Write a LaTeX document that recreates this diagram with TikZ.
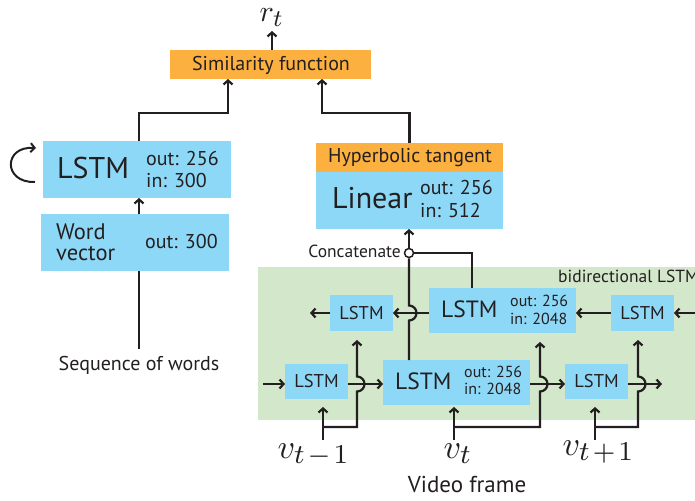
\documentclass[tikz,border=0pt]{standalone}
\usepackage{fontspec}
\setsansfont{PT Sans}
\usetikzlibrary{arrows.meta}
\DeclareMathSizes{10}{10}{8}{6}
\definecolor{boxblue}{HTML}{8DD8F7}
\definecolor{boxorange}{HTML}{FBB040}
\definecolor{bggreen}{HTML}{D3E7CA}
\definecolor{ink}{HTML}{231F20}
\newcommand{\fs}[1]{\fontsize{#1}{#1}\selectfont}
\newcommand{\opsp}{\mskip2mu}
\begin{document}
\begin{tikzpicture}[x=1pt,y=-1pt,
  box/.style={fill=boxblue, inner sep=0pt, outer sep=0pt, anchor=north west},
  obox/.style={box, fill=boxorange},
  lbl/.style={inner sep=0pt, anchor=base west, text=ink, font=\sffamily},
  clbl/.style={lbl, anchor=base},
  mathlbl/.style={inner sep=0pt, anchor=base west, text=ink, scale=3.4},
  wire/.style={draw=ink, line width=2.2pt},
  arr/.style={wire, -{Straight Barb[length=4pt,width=9pt]}},
]
\useasboundingbox (0,0) rectangle (695,500);

% bidirectional LSTM background
\node[fill=bggreen, inner sep=0pt, anchor=north west, minimum width=437pt, minimum height=153pt] (bilstm) at (258,267) {};
\node[lbl, font=\sffamily\fs{17.5}] (bititle) at (558,282) {bidirectional LSTM};

% boxes
\node[obox, minimum width=201pt, minimum height=29pt] (sim) at (170,50) {};
\node[box, minimum width=188pt, minimum height=57pt] (wlstm) at (43,141) {};
\node[box, minimum width=188pt, minimum height=57pt] (wvec) at (41,214) {};
\node[obox, minimum width=187pt, minimum height=29pt] (tanh) at (316,143) {};
\node[box, minimum width=187pt, minimum height=57pt] (linear) at (316,172) {};
\node[box, minimum width=63pt, minimum height=36pt] (tl) at (330,295) {};
\node[box, minimum width=147pt, minimum height=45pt] (tm) at (429,288) {};
\node[box, minimum width=63pt, minimum height=36pt] (tr) at (611,295) {};
\node[box, minimum width=63pt, minimum height=35pt] (bl) at (285,364) {};
\node[box, minimum width=147pt, minimum height=45pt] (bm) at (383,360) {};
\node[box, minimum width=63pt, minimum height=35pt] (br) at (565,364) {};

% texts
\node[clbl, font=\sffamily\fs{20}] (simtxt) at (271,71) {Similarity function};
\node[inner sep=0pt, text=ink, anchor=base west, scale=3.0] (rt) at (259,22) {$r_t$};
\node[lbl, font=\sffamily\fs{30}] (wlstmtxt) at (57,178) {LSTM};
\node[lbl, font=\sffamily\fs{20}] (wlstmout) at (146,165) {out: 256};
\node[lbl, font=\sffamily\fs{20}] (wlstmin) at (146,187) {in: 300};
\node[lbl, font=\sffamily\fs{22.5}] (wvectxtA) at (56,239) {Word};
\node[lbl, font=\sffamily\fs{22.5}] (wvectxtB) at (56,260) {vector};
\node[lbl, font=\sffamily\fs{20}] (wvecout) at (145,248) {out: 300};
\node[clbl, font=\sffamily\fs{20}] (seq) at (139,370) {Sequence of words};
\node[clbl, font=\sffamily\fs{20}] (tanhtxt) at (410,162) {Hyperbolic tangent};
\node[lbl, font=\sffamily\fs{30}] (lintxt) at (332,208) {Linear};
\node[lbl, font=\sffamily\fs{20}] (linout) at (420,194) {out: 256};
\node[lbl, font=\sffamily\fs{20}] (linin) at (420,217) {in: 512};
\node[lbl, font=\sffamily\fs{18.5}, anchor=center] (tltxt) at (tl.center) {LSTM};
\node[lbl, font=\sffamily\fs{18.5}, anchor=center] (trtxt) at (tr.center) {LSTM};
\node[lbl, font=\sffamily\fs{18.5}, anchor=center] (bltxt) at (bl.center) {LSTM};
\node[lbl, font=\sffamily\fs{18.5}, anchor=center] (brtxt) at (br.center) {LSTM};
\node[lbl, font=\sffamily\fs{23.5}] (tmtxt) at (441,317) {LSTM};
\node[lbl, font=\sffamily\fs{16}] (tmout) at (510,306) {out: 256};
\node[lbl, font=\sffamily\fs{16}] (tmin) at (510,324) {in: 2048};
\node[lbl, font=\sffamily\fs{23.5}] (bmtxt) at (395,389) {LSTM};
\node[lbl, font=\sffamily\fs{16}] (bmout) at (464,377) {out: 256};
\node[lbl, font=\sffamily\fs{16}] (bmin) at (464,394) {in: 2048};
\node[mathlbl] (v1) at (277,458) {$v_{t\opsp-\opsp1}$};
\node[mathlbl] (v2) at (443,458) {$v_t$};
\node[mathlbl] (v3) at (562,455) {$v_{t\opsp+\opsp1}$};
\node[clbl, font=\sffamily\fs{23}] (video) at (467,492) {Video frame};

% concatenation point
\node[circle, draw=ink, fill=white, line width=1.5pt, inner sep=0pt, minimum size=9pt] (cat) at (409,253) {};
\node[lbl, anchor=base east, font=\sffamily\fs{17.5}] (cattxt) at (401,257) {Concatenate};

% ports and junctions
\coordinate (wordaxis) at (139,0);
\coordinate (seqtop) at (139,349);
\coordinate (simInL) at (228,79);
\coordinate (simInR) at (322,79);
\coordinate (simOut) at (272,50);
\coordinate (rtfoot) at (272,31);
\coordinate (loopS) at (35,182);
\coordinate (loopE) at (36,148);
\coordinate (tmOut) at (472,288);
\coordinate (catHop) at (409,305.5);
\coordinate (outL) at (310,313);
\coordinate (inR) at (695,313);
\coordinate (brow) at (0,384);
\coordinate (inBL) at (263,384);
\coordinate (outBR) at (662,384);
\coordinate (tap1) at (323,440);
\coordinate (tap2) at (454,440);
\coordinate (tap3) at (595,440);
\coordinate (fork1) at (323,427);
\coordinate (fork2) at (454,427);
\coordinate (fork3) at (595,427);
\coordinate (hop1) at (357,391.5);
\coordinate (hop2) at (540,391.5);
\coordinate (hop3) at (638,391.5);

% sentence branch
\draw[wire] (seqtop) -- (wvec.south -| wordaxis);
\draw[arr] (wvec.north -| wordaxis) -- (wlstm.south -| wordaxis);
\draw[arr] (wlstm.north -| wordaxis) -- ++(0,-28) -| (simInL);
\draw[arr, line width=2pt] (loopS) .. controls (3,183) and (3,146) .. (loopE);

% similarity output
\draw[arr] (simOut) -- (rtfoot);

% video branch
\draw[arr] (tanh.north) -- ++(0,-30) -| (simInR);
\draw[arr] (cat.north) -- (cat |- linear.south);
\draw[wire] (cat.east) -| (tmOut);
\draw[wire] (cat.south) -- (catHop) arc[start angle=90, end angle=-90, radius=7.5pt] -- (cat |- bm.north);

% backward direction
\draw[arr] (inR) -- (tr.east);
\draw[arr] (tr.west) -- (tr.west -| tm.east);
\draw[arr] (tm.west |- tl.east) -- (tl.east);
\draw[arr] (tl.west) -- (outL);

% forward direction
\draw[arr] (inBL) -- (bl.west |- brow);
\draw[arr] (bl.east |- brow) -- (bm.west |- brow);
\draw[arr] (bm.east |- brow) -- (br.west |- brow);
\draw[arr] (br.east |- brow) -- (outBR);

% frame inputs
\draw[arr, shorten >=8pt] (tap1) -- (tap1 |- bl.south);
\draw[arr, shorten >=2pt] (tap2) -- (tap2 |- bm.south);
\draw[arr, shorten >=8pt] (tap3) -- (tap3 |- br.south);
\draw[arr, shorten >=9pt] (fork1) -| (hop1) arc[start angle=-90, end angle=90, radius=7.5pt] -- (hop1 |- tl.south);
\draw[arr, shorten >=9pt] (fork2) -| (hop2) arc[start angle=-90, end angle=90, radius=7.5pt] -- (hop2 |- tm.south);
\draw[arr, shorten >=9pt] (fork3) -| (hop3) arc[start angle=-90, end angle=90, radius=7.5pt] -- (hop3 |- tr.south);
\end{tikzpicture}
\end{document}
